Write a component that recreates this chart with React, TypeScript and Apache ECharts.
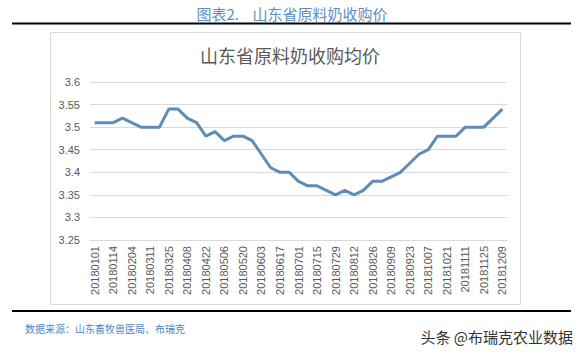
import React, { useEffect, useRef } from "react";
import * as echarts from "echarts";

const categories: string[] = [
  "20180101", "20180107", "20180114", "20180121", "20180204", "20180225",
  "20180311", "20180318", "20180325", "20180401", "20180408", "20180415",
  "20180422", "20180429", "20180506", "20180513", "20180520", "20180527",
  "20180603", "20180610", "20180617", "20180624", "20180701", "20180708",
  "20180715", "20180722", "20180729", "20180805", "20180812", "20180819",
  "20180826", "20180902", "20180909", "20180916", "20180923", "20180930",
  "20181007", "20181014", "20181021", "20181104", "20181111", "20181118",
  "20181125", "20181202", "20181209",
];

const prices: number[] = [
  3.51, 3.51, 3.51, 3.52, 3.51, 3.5, 3.5, 3.5, 3.54, 3.54, 3.52, 3.51,
  3.48, 3.49, 3.47, 3.48, 3.48, 3.47, 3.44, 3.41, 3.4, 3.4, 3.38, 3.37,
  3.37, 3.36, 3.35, 3.36, 3.35, 3.36, 3.38, 3.38, 3.39, 3.4, 3.42, 3.44,
  3.45, 3.48, 3.48, 3.48, 3.5, 3.5, 3.5, 3.52, 3.54,
];

const figureTitle = "图表2.\u00a0\u00a0\u00a0\u00a0山东省原料奶收购价";
const chartTitle = "山东省原料奶收购均价";
const sourceText = "数据来源：山东畜牧兽医局、布瑞克";
const watermark = "头条 @布瑞克农业数据";

const CJK = "'Noto Sans CJK SC', 'Noto Sans', sans-serif";
const NUM = "'Liberation Sans', 'DejaVu Sans', sans-serif";

export default function App() {
  const ref = useRef<HTMLDivElement>(null);
  useEffect(() => {
    document.body.style.margin = "0";
    const chart = echarts.init(ref.current!, undefined, { renderer: "svg" });
    chart.setOption({
      animation: false,
      backgroundColor: "#ffffff",
      title: {
        text: chartTitle,
        left: 285,
        textAlign: "center",
        top: 41,
        textStyle: { fontFamily: CJK, fontSize: 18, fontWeight: "normal", color: "#595959" },
      },
      grid: { left: 90, right: 76, top: 82, bottom: 116 },
      xAxis: {
        type: "category",
        data: categories,
        boundaryGap: true,
        axisLine: { show: true, lineStyle: { color: "#d9d9d9", width: 1 } },
        axisTick: { show: false },
        axisLabel: {
          interval: 1,
          rotate: 90,
          margin: 6,
          fontFamily: NUM,
          fontSize: 11,
          color: "#595959",
        },
      },
      yAxis: {
        type: "value",
        min: 3.25,
        max: 3.6,
        interval: 0.05,
        axisLine: { show: false },
        axisTick: { show: false },
        splitLine: { lineStyle: { color: "#d9d9d9", width: 1 } },
        axisLabel: {
          margin: 10,
          fontFamily: NUM,
          fontSize: 11,
          color: "#595959",
          formatter: (v: number) => String(+v.toFixed(2)),
        },
      },
      series: [
        {
          type: "line",
          data: prices,
          symbol: "none",
          lineStyle: { color: "#5e8cb8", width: 3 },
        },
      ],
      graphic: [
        {
          type: "text",
          x: 292,
          y: 13,
          style: {
            text: figureTitle,
            fontFamily: CJK,
            fontSize: 15,
            fill: "#5b8fc4",
            align: "center",
            verticalAlign: "middle",
          },
        },
        {
          type: "line",
          shape: { x1: 12, y1: 23.5, x2: 571, y2: 23.5 },
          style: { stroke: "#000000", lineWidth: 2 },
        },
        {
          type: "rect",
          shape: { x: 50.5, y: 32.5, width: 470, height: 272 },
          style: { fill: "none", stroke: "#d9d9d9", lineWidth: 1 },
        },
        {
          type: "line",
          shape: { x1: 12, y1: 311, x2: 571, y2: 311 },
          style: { stroke: "#000000", lineWidth: 2 },
        },
        {
          type: "text",
          x: 25,
          y: 328,
          style: {
            text: sourceText,
            fontFamily: CJK,
            fontSize: 10,
            fill: "#4f86c0",
            verticalAlign: "middle",
          },
        },
        {
          type: "text",
          x: 573,
          y: 336,
          style: {
            text: watermark,
            fontFamily: CJK,
            fontSize: 15,
            fill: "#333333",
            align: "right",
            verticalAlign: "middle",
          },
        },
      ],
    });
    return () => chart.dispose();
  }, []);
  return <div ref={ref} style={{ width: 583, height: 356 }} />;
}
